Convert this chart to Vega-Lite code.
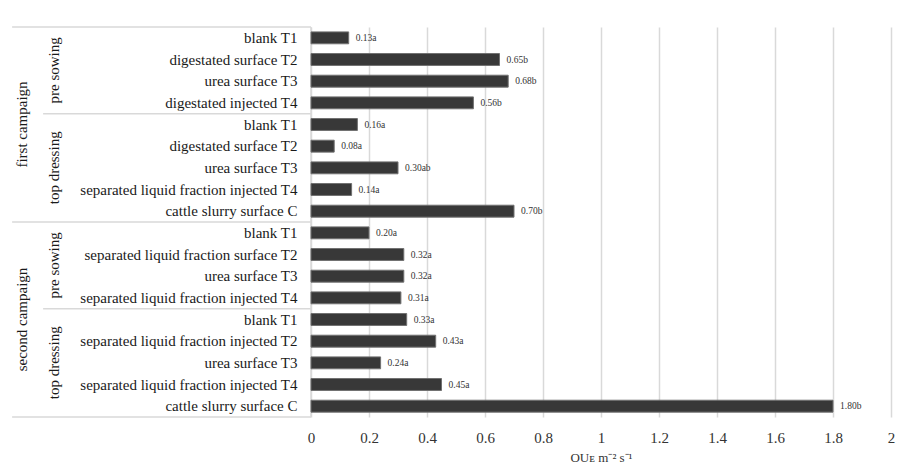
{
  "$schema": "https://vega.github.io/schema/vega-lite/v6.json",
  "padding": {"left": 10, "top": 26, "right": 11, "bottom": 4},
  "background": "white",
  "bounds": "flush",
  "spacing": 0,
  "config": {
    "view": {"stroke": null},
    "font": "'Liberation Serif', 'Times New Roman', Times, serif",
    "text": {"font": "'Liberation Serif', 'Times New Roman', Times, serif"}
  },
  "datasets": {
    "rows": [
      {"id": "01", "campaign": "first campaign", "stage": "pre sowing", "treatment": "blank T1", "value": 0.13, "label": "0.13a"},
      {"id": "02", "campaign": "first campaign", "stage": "pre sowing", "treatment": "digestated surface T2", "value": 0.65, "label": "0.65b"},
      {"id": "03", "campaign": "first campaign", "stage": "pre sowing", "treatment": "urea surface T3", "value": 0.68, "label": "0.68b"},
      {"id": "04", "campaign": "first campaign", "stage": "pre sowing", "treatment": "digestated injected T4", "value": 0.56, "label": "0.56b"},
      {"id": "05", "campaign": "first campaign", "stage": "top dressing", "treatment": "blank T1", "value": 0.16, "label": "0.16a"},
      {"id": "06", "campaign": "first campaign", "stage": "top dressing", "treatment": "digestated surface T2", "value": 0.08, "label": "0.08a"},
      {"id": "07", "campaign": "first campaign", "stage": "top dressing", "treatment": "urea surface T3", "value": 0.30, "label": "0.30ab"},
      {"id": "08", "campaign": "first campaign", "stage": "top dressing", "treatment": "separated liquid fraction injected T4", "value": 0.14, "label": "0.14a"},
      {"id": "09", "campaign": "first campaign", "stage": "top dressing", "treatment": "cattle slurry surface C", "value": 0.70, "label": "0.70b"},
      {"id": "10", "campaign": "second campaign", "stage": "pre sowing", "treatment": "blank T1", "value": 0.20, "label": "0.20a"},
      {"id": "11", "campaign": "second campaign", "stage": "pre sowing", "treatment": "separated liquid fraction surface T2", "value": 0.32, "label": "0.32a"},
      {"id": "12", "campaign": "second campaign", "stage": "pre sowing", "treatment": "urea surface T3", "value": 0.32, "label": "0.32a"},
      {"id": "13", "campaign": "second campaign", "stage": "pre sowing", "treatment": "separated liquid fraction injected T4", "value": 0.31, "label": "0.31a"},
      {"id": "14", "campaign": "second campaign", "stage": "top dressing", "treatment": "blank T1", "value": 0.33, "label": "0.33a"},
      {"id": "15", "campaign": "second campaign", "stage": "top dressing", "treatment": "separated liquid fraction injected T2", "value": 0.43, "label": "0.43a"},
      {"id": "16", "campaign": "second campaign", "stage": "top dressing", "treatment": "urea surface T3", "value": 0.24, "label": "0.24a"},
      {"id": "17", "campaign": "second campaign", "stage": "top dressing", "treatment": "separated liquid fraction injected T4", "value": 0.45, "label": "0.45a"},
      {"id": "18", "campaign": "second campaign", "stage": "top dressing", "treatment": "cattle slurry surface C", "value": 1.80, "label": "1.80b"}
    ],
    "campaignTops": [{"id": "01"}, {"id": "10"}],
    "stageTops": [{"id": "05"}, {"id": "14"}],
    "bottom": [{"id": "18"}],
    "stageMid": [
      {"id": "07", "name": "top dressing"},
      {"id": "16", "name": "top dressing"}
    ],
    "stageEdge": [
      {"id": "02", "name": "pre sowing"},
      {"id": "11", "name": "pre sowing"}
    ],
    "campaignMid": [
      {"id": "05", "name": "first campaign"},
      {"id": "14", "name": "second campaign"}
    ]
  },
  "resolve": {"scale": {"y": "shared"}},
  "hconcat": [
    {
      "width": 301,
      "height": 390,
      "layer": [
        {
          "data": {"name": "campaignTops"},
          "mark": {"type": "rule", "color": "#d9d9d9", "strokeWidth": 1.5},
          "encoding": {
            "y": {"field": "id", "type": "nominal", "bandPosition": 0, "axis": null, "scale": {"paddingInner": 0, "paddingOuter": 0}},
            "x": {"datum": 0.007, "type": "quantitative", "scale": {"domain": [0, 1]}, "axis": null},
            "x2": {"datum": 1}
          }
        },
        {
          "data": {"name": "bottom"},
          "mark": {"type": "rule", "color": "#d9d9d9", "strokeWidth": 1.5},
          "encoding": {
            "y": {"field": "id", "type": "nominal", "bandPosition": 1, "axis": null},
            "x": {"datum": 0.007, "type": "quantitative", "axis": null},
            "x2": {"datum": 1}
          }
        },
        {
          "data": {"name": "stageTops"},
          "mark": {"type": "rule", "color": "#d9d9d9", "strokeWidth": 1.5},
          "encoding": {
            "y": {"field": "id", "type": "nominal", "bandPosition": 0, "axis": null},
            "x": {"datum": 0.11, "type": "quantitative", "axis": null},
            "x2": {"datum": 1}
          }
        },
        {
          "data": {"name": "bottom"},
          "mark": {"type": "rule", "color": "#d9d9d9", "strokeWidth": 1.5},
          "encoding": {
            "x": {"datum": 1, "type": "quantitative", "axis": null}
          }
        },
        {
          "data": {"name": "rows"},
          "mark": {"type": "text", "align": "right", "baseline": "middle", "fontSize": 15, "color": "#1a1a1a"},
          "encoding": {
            "y": {"field": "id", "type": "nominal", "axis": null},
            "x": {"datum": 0.955, "type": "quantitative", "axis": null},
            "text": {"field": "treatment"}
          }
        },
        {
          "data": {"name": "stageMid"},
          "mark": {"type": "text", "align": "center", "baseline": "middle", "angle": 270, "fontSize": 15, "color": "#1a1a1a"},
          "encoding": {
            "y": {"field": "id", "type": "nominal", "axis": null},
            "x": {"datum": 0.146, "type": "quantitative", "axis": null},
            "text": {"field": "name"}
          }
        },
        {
          "data": {"name": "stageEdge"},
          "mark": {"type": "text", "align": "center", "baseline": "middle", "angle": 270, "fontSize": 15, "color": "#1a1a1a"},
          "encoding": {
            "y": {"field": "id", "type": "nominal", "bandPosition": 1, "axis": null},
            "x": {"datum": 0.146, "type": "quantitative", "axis": null},
            "text": {"field": "name"}
          }
        },
        {
          "data": {"name": "campaignMid"},
          "mark": {"type": "text", "align": "center", "baseline": "middle", "angle": 270, "fontSize": 15, "color": "#1a1a1a"},
          "encoding": {
            "y": {"field": "id", "type": "nominal", "axis": null},
            "x": {"datum": 0.04, "type": "quantitative", "axis": null},
            "text": {"field": "name"}
          }
        }
      ]
    },
    {
      "width": 580,
      "height": 390,
      "data": {"name": "rows"},
      "encoding": {
        "y": {"field": "id", "type": "nominal", "axis": null, "scale": {"paddingInner": 0, "paddingOuter": 0}},
        "x": {
          "field": "value",
          "type": "quantitative",
          "scale": {"domain": [0, 2], "nice": false},
          "axis": {
            "values": [0, 0.2, 0.4, 0.6, 0.8, 1, 1.2, 1.4, 1.6, 1.8, 2],
            "format": "~g",
            "grid": true,
            "gridColor": "#d9d9d9",
            "gridWidth": 1.5,
            "domain": false,
            "ticks": false,
            "labelFontSize": 15,
            "labelColor": "#333333",
            "labelPadding": 13,
            "labelFlush": false,
            "title": "OUᴇ m⁻² s⁻¹",
            "titleFontSize": 13,
            "titleFontWeight": "normal",
            "titleColor": "#333333",
            "titlePadding": 6
          }
        }
      },
      "layer": [
        {
          "mark": {"type": "bar", "height": {"band": 0.55}, "fill": "#383838", "stroke": "#707070", "strokeWidth": 1}
        },
        {
          "mark": {"type": "text", "align": "left", "baseline": "middle", "dx": 7, "fontSize": 9.5, "color": "#333333"},
          "encoding": {"text": {"field": "label"}}
        }
      ]
    }
  ]
}
